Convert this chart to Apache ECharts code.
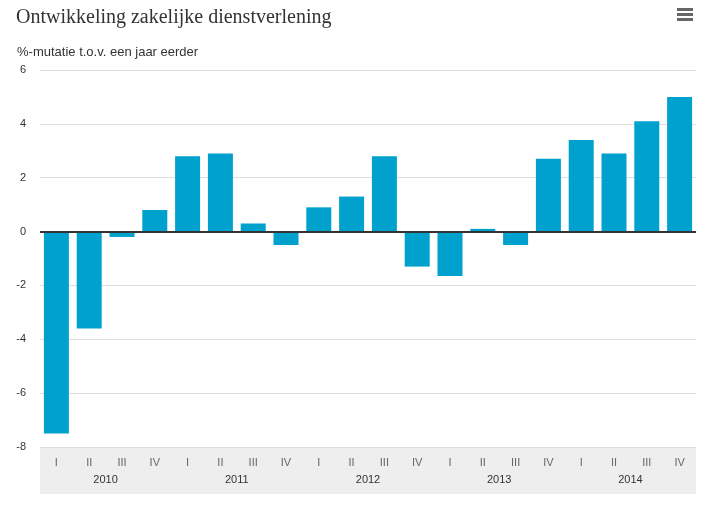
<!DOCTYPE html>
<html>
<head>
<meta charset="utf-8">
<script src="https://cdn.jsdelivr.net/npm/echarts@6/dist/echarts.min.js"></script>
<style>
  html, body { margin: 0; padding: 0; background: #fff; }
  #chart { width: 711px; height: 514px; }
</style>
</head>
<body>
<div id="chart"></div>
<script>
// kwartalen en jaren
var quarters = ['I', 'II', 'III', 'IV', 'I', 'II', 'III', 'IV', 'I', 'II', 'III', 'IV',
                'I', 'II', 'III', 'IV', 'I', 'II', 'III', 'IV'];
var years = ['2010', '2011', '2012', '2013', '2014'];
// %-mutatie t.o.v. een jaar eerder
var mutatie = [-7.5, -3.6, -0.2, 0.8, 2.8, 2.9, 0.3, -0.5, 0.9, 1.3, 2.8, -1.3,
               -1.65, 0.1, -0.5, 2.7, 3.4, 2.9, 4.1, 5.0];

var chart = echarts.init(document.getElementById('chart'));

var option = {
    animation: false,
    title: [
        {
            text: 'Ontwikkeling zakelijke dienstverlening',
            left: 11, top: 3,
            textStyle: { fontFamily: 'Liberation Serif', fontSize: 20, fontWeight: 'normal', color: '#333' }
        },
        {
            text: '%-mutatie t.o.v. een jaar eerder',
            left: 12, top: 41,
            textStyle: { fontFamily: 'Liberation Sans', fontSize: 13, fontWeight: 'normal', color: '#333' }
        }
    ],
    graphic: [
        // grijze band onder de as
        { type: 'rect', z: -1, shape: { x: 40, y: 448, width: 656, height: 46 }, style: { fill: '#eeeeee' } },
        // menu-icoon
        { type: 'rect', shape: { x: 677, y: 8, width: 16, height: 3 }, style: { fill: '#666' } },
        { type: 'rect', shape: { x: 677, y: 13, width: 16, height: 3 }, style: { fill: '#666' } },
        { type: 'rect', shape: { x: 677, y: 18, width: 16, height: 3 }, style: { fill: '#666' } }
    ],
    grid: { left: 40, right: 15, top: 70, bottom: 67 },
    xAxis: [
        {
            type: 'category',
            data: quarters,
            position: 'bottom',
            axisLine: { show: false },
            axisTick: { show: false },
            axisLabel: { color: '#666', fontSize: 11, margin: 10, fontFamily: 'Liberation Sans' }
        },
        {
            type: 'category',
            data: years,
            position: 'bottom',
            axisLine: { show: false },
            axisTick: { show: false },
            axisLabel: { color: '#333', fontSize: 11, margin: 27, fontFamily: 'Liberation Sans' }
        }
    ],
    yAxis: {
        type: 'value',
        min: -8, max: 6, interval: 2,
        axisLine: { show: false },
        axisTick: { show: false },
        axisLabel: { color: '#333', fontSize: 11, margin: 14, padding: [6, 0, 0, 0], fontFamily: 'Liberation Sans' },
        splitLine: { lineStyle: { color: '#dddddd', width: 1 } }
    },
    series: [
        {
            type: 'bar',
            xAxisIndex: 0,
            data: mutatie,
            barWidth: 25,
            itemStyle: { color: '#00a1cd' },
            markLine: {
                silent: true,
                symbol: 'none',
                label: { show: false },
                lineStyle: { color: '#333', width: 2, type: 'solid' },
                data: [{ yAxis: 0 }]
            }
        }
    ]
};

chart.setOption(option);
</script>
</body>
</html>
